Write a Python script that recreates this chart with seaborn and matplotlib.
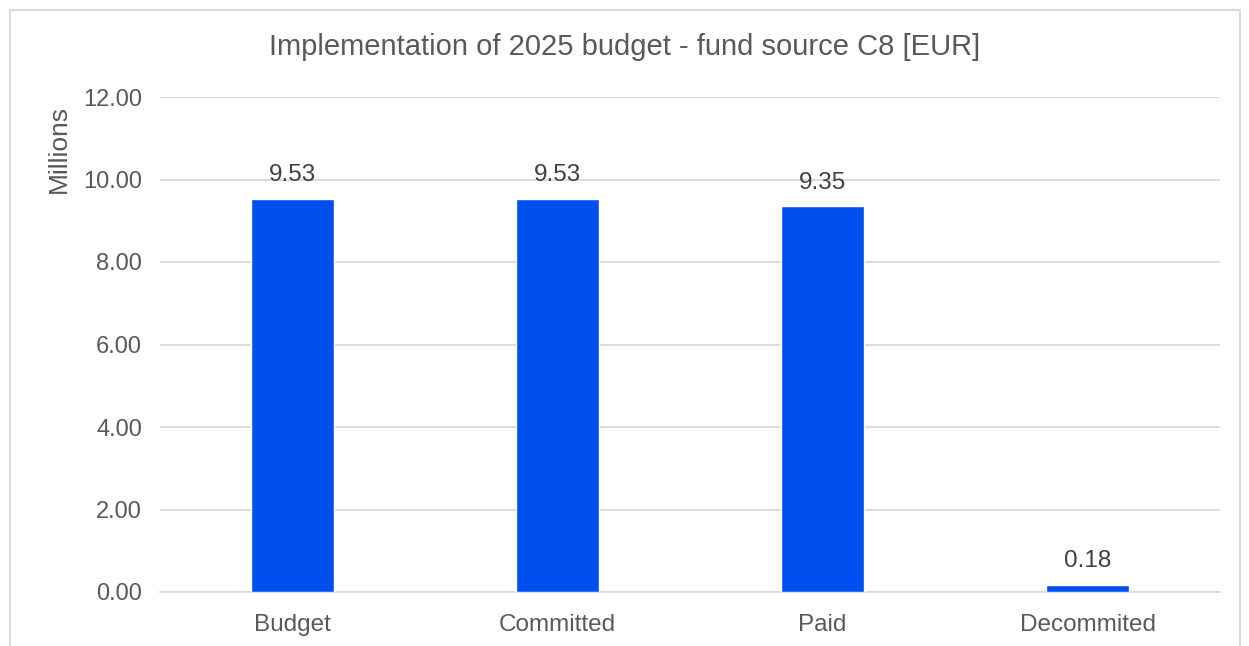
import matplotlib
matplotlib.use("Agg")
import matplotlib.pyplot as plt
import seaborn as sns
import pandas as pd
from matplotlib.patches import Rectangle

categories = ["Budget", "Committed", "Paid", "Decommited"]
values = [9.53, 9.53, 9.35, 0.18]
yticks = [0, 2, 4, 6, 8, 10, 12]

sns.set_theme(style="white")
plt.rcParams['font.family'] = ['Liberation Sans', 'DejaVu Sans']

df = pd.DataFrame({"cat": categories, "val": values})
fig = plt.figure(figsize=(12.49, 6.46), dpi=100)
ax = fig.add_axes([160/1249, 1 - 592/646, 1060/1249, (592-97)/646])

sns.barplot(data=df, x="cat", y="val", color="#0050EF", width=0.31, ax=ax,
            saturation=1, zorder=3)
ax.set_ylim(0, 12)
ax.set_yticks(yticks)
ax.set_yticklabels([f"{t:.2f}" for t in yticks], fontsize=17, color="#595959")
ax.tick_params(axis='x', labelsize=17.5, colors="#595959", length=0, pad=16)
ax.tick_params(axis='y', length=0, pad=13)
ax.yaxis.grid(True, color="#D9D9D9", linewidth=1.3, zorder=0)
for s in ["top", "right", "left"]:
    ax.spines[s].set_visible(False)
ax.spines["bottom"].set_color("#D9D9D9")
ax.spines["bottom"].set_linewidth(1.3)
ax.set_xlabel("")
ax.set_ylabel("Millions", fontsize=19, color="#595959")
ax.yaxis.set_label_coords((59 - 160) / 1060, (592 - 149) / 495)
ax.yaxis.label.set_va("center")

for i, v in enumerate(values):
    ax.annotate(f"{v:.2f}", (i, v), xytext=(0, 9), textcoords="offset points",
                ha="center", va="bottom", fontsize=17.5, color="#404040")

fig.text(0.5, 1 - 47/646, "Implementation of 2025 budget - fund source C8 [EUR]",
         ha="center", va="center", fontsize=21, color="#595959")

fig.patches.append(Rectangle((10/1249, -0.05), 1230/1249, 1 - 10/646 + 0.05,
                             transform=fig.transFigure, fill=False,
                             edgecolor="#D9D9D9", linewidth=1.5))

fig.savefig("out.png", dpi=100, facecolor="white")
